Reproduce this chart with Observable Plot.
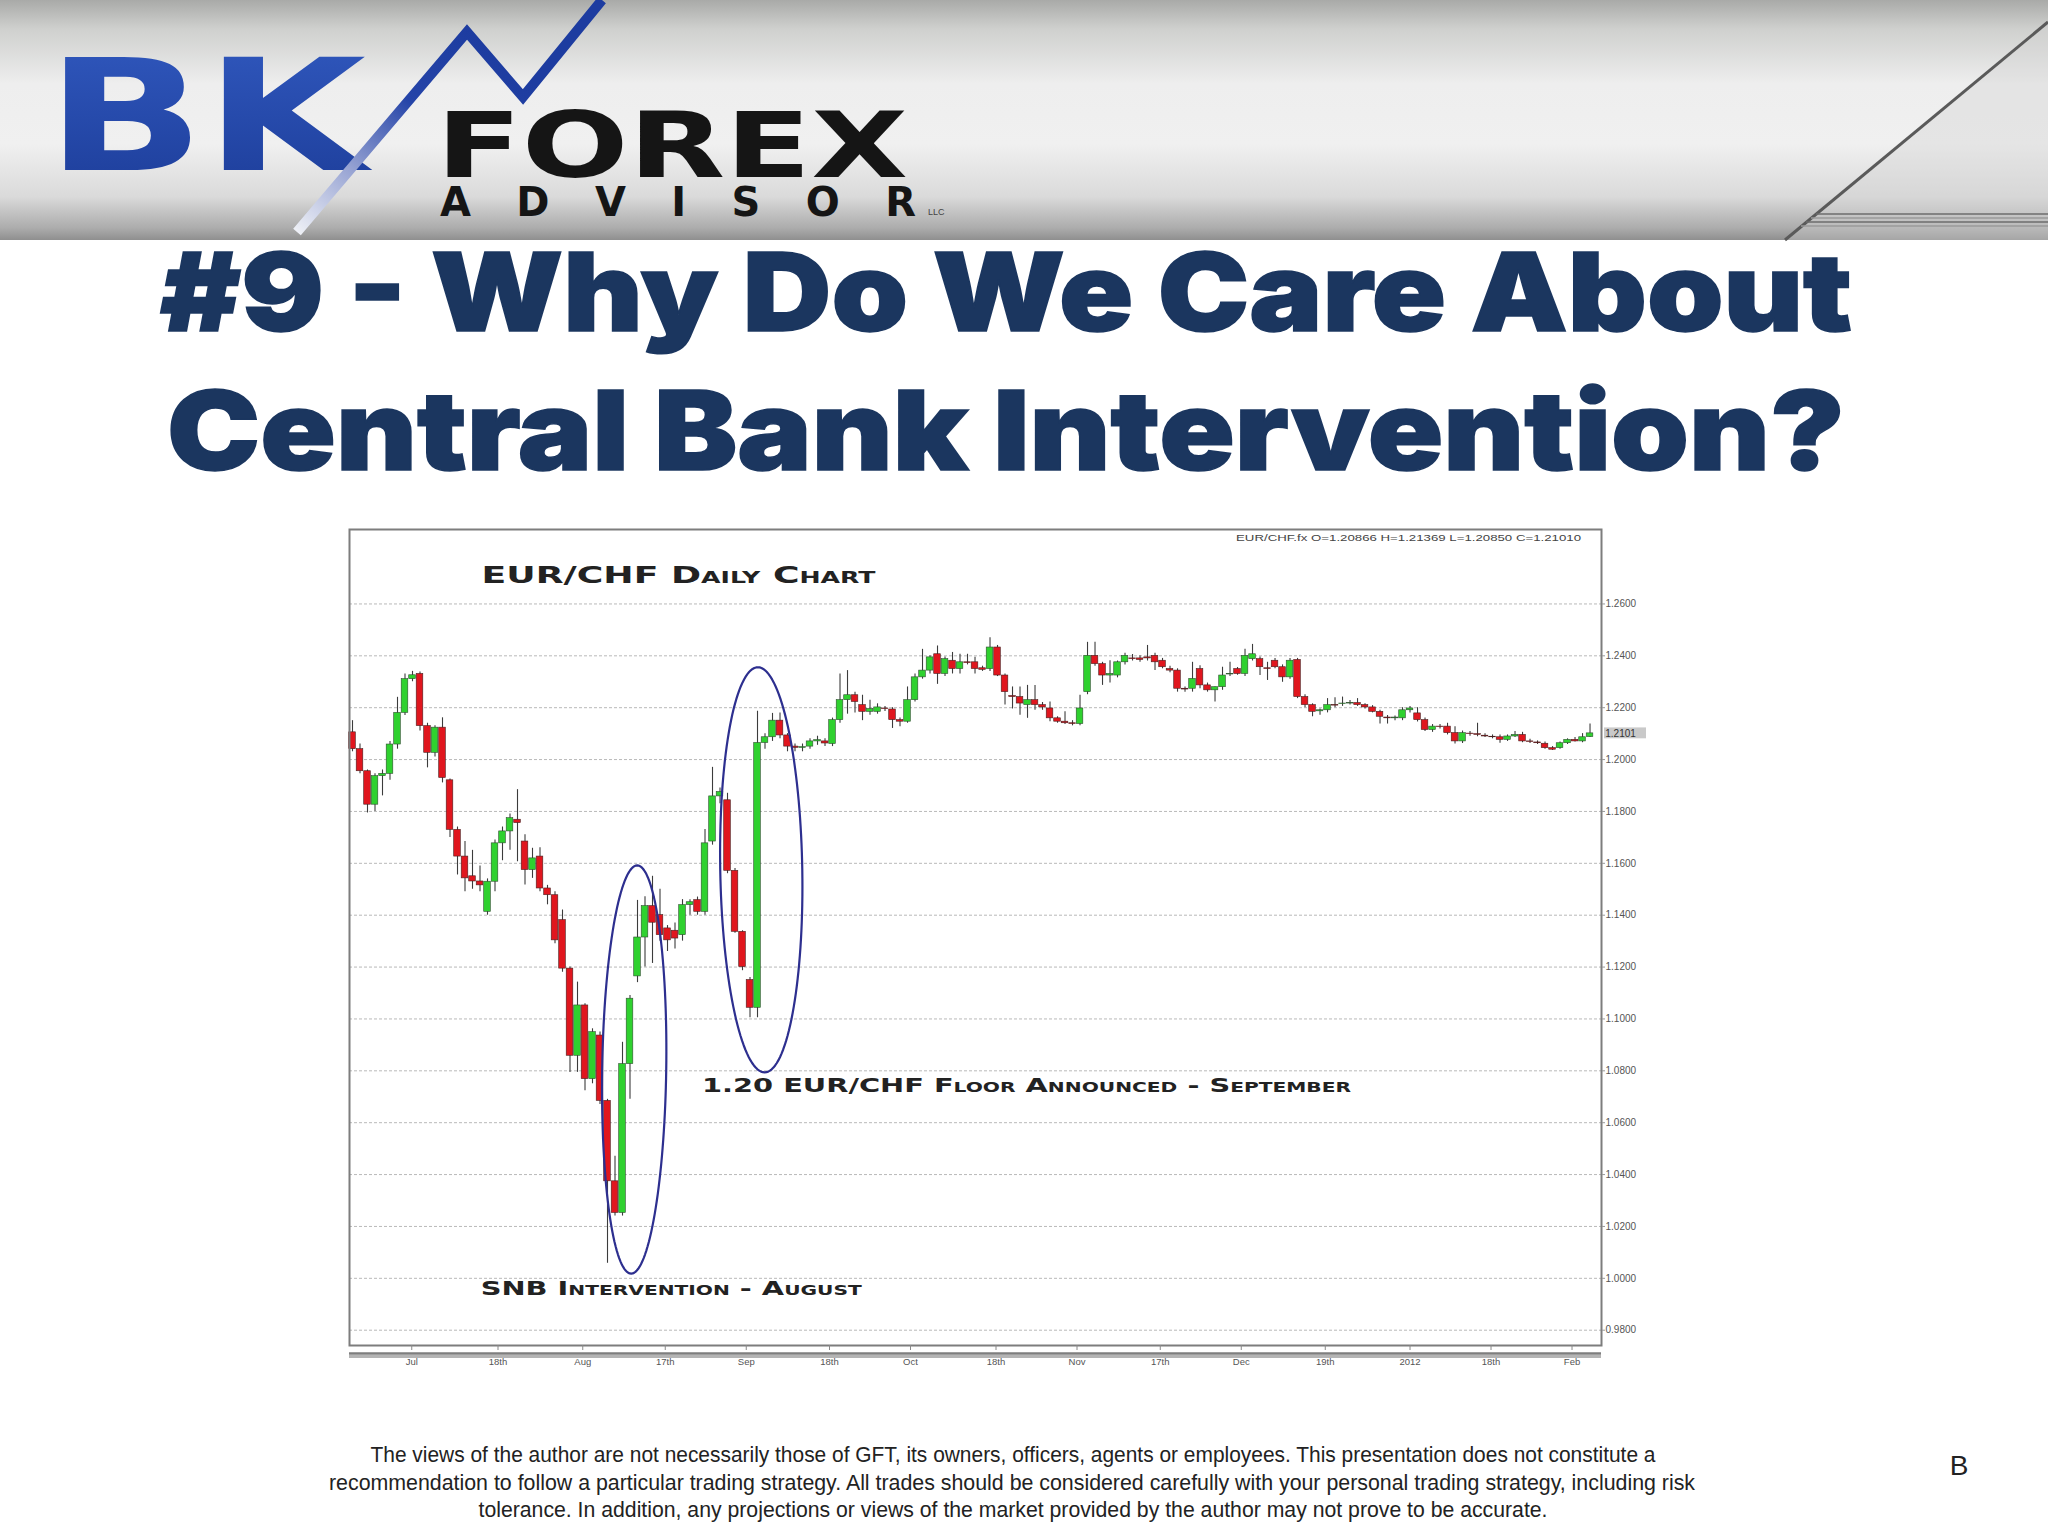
<!DOCTYPE html>
<html>
<head>
<meta charset="utf-8">
<title>#9 - Why Do We Care About Central Bank Intervention?</title>
<script src="https://cdn.jsdelivr.net/npm/d3@7"></script>
<script src="https://cdn.jsdelivr.net/npm/@observablehq/plot@0.6"></script>
<style>
  html, body { margin: 0; padding: 0; background: #ffffff; }
  #slide { position: relative; width: 2048px; height: 1536px; overflow: hidden; background: #ffffff; }
  #deco { position: absolute; left: 0; top: 0; }
  #chart { position: absolute; left: 349px; top: 529px; }
  #chart svg { overflow: visible; }
</style>
</head>
<body>
<div id="slide">
<svg id="deco" width="2048" height="1536" xmlns="http://www.w3.org/2000/svg">
  <defs>
    <linearGradient id="band" x1="0" y1="0" x2="0" y2="1">
      <stop offset="0" stop-color="#a9aaa8"/>
      <stop offset="0.12" stop-color="#cfd0ce"/>
      <stop offset="0.35" stop-color="#eeeeee"/>
      <stop offset="0.6" stop-color="#f0f0f0"/>
      <stop offset="0.82" stop-color="#dadada"/>
      <stop offset="0.95" stop-color="#acacac"/>
      <stop offset="1" stop-color="#8f8f8f"/>
    </linearGradient>
    <linearGradient id="bk" x1="0" y1="0" x2="0" y2="1">
      <stop offset="0" stop-color="#3159bf"/>
      <stop offset="1" stop-color="#1c3c98"/>
    </linearGradient>
    <linearGradient id="zig" gradientUnits="userSpaceOnUse" x1="297" y1="232" x2="470" y2="30">
      <stop offset="0" stop-color="#eef0f6"/>
      <stop offset="0.3" stop-color="#9aa6d4"/>
      <stop offset="0.65" stop-color="#2544a8"/>
      <stop offset="1" stop-color="#1d3ca0"/>
    </linearGradient>
  </defs>
  <rect x="0" y="0" width="2048" height="240" fill="url(#band)"/>
  <polygon points="2048,22 1785,240 2048,240" fill="#d0d0d0" opacity="0.35"/>
  <line x1="2048" y1="22" x2="1785" y2="240" stroke="#5a5a5a" stroke-width="3"/>
  <line x1="1816" y1="214" x2="2048" y2="214" stroke="#6d6d6d" stroke-width="1.5"/>
  <line x1="1811" y1="218" x2="2048" y2="218" stroke="#9a9a9a" stroke-width="1.5"/>
  <line x1="1806" y1="222" x2="2048" y2="222" stroke="#6d6d6d" stroke-width="1.5"/>
  <line x1="1801" y1="226" x2="2048" y2="226" stroke="#9a9a9a" stroke-width="1.5"/>
  <text x="46" y="170" font-family="'DejaVu Sans', sans-serif" font-weight="bold" font-size="155" fill="url(#bk)" textLength="320" lengthAdjust="spacingAndGlyphs">BK</text>
  <polyline points="297,232 467,32 523,97 602,0" fill="none" stroke="url(#zig)" stroke-width="10" stroke-linejoin="miter"/>
  <text font-family="'DejaVu Sans', sans-serif" font-weight="bold" fill="#151515"><tspan x="436" y="177" font-size="90" textLength="472" lengthAdjust="spacingAndGlyphs">FOREX</tspan><tspan x="440" y="216" font-size="40" textLength="476" lengthAdjust="spacing">ADVISOR</tspan></text>
  <text x="928" y="215" font-family="'Liberation Sans', sans-serif" font-size="9" fill="#444">LLC</text>

  <text x="160" y="331" font-family="Inter, 'DejaVu Sans', sans-serif" font-weight="900" font-size="108" fill="#1b365f" stroke="#1b365f" stroke-width="1.5" textLength="1692" lengthAdjust="spacingAndGlyphs">#9 - Why Do We Care About</text>
  <text x="167" y="470" font-family="Inter, 'DejaVu Sans', sans-serif" font-weight="900" font-size="110" fill="#1b365f" stroke="#1b365f" stroke-width="1.5" textLength="1678" lengthAdjust="spacingAndGlyphs">Central Bank Intervention?</text>

  <g font-family="'Liberation Sans Narrow', 'Liberation Sans', sans-serif" font-size="22" fill="#222" text-anchor="middle">
    <text x="1013" y="1462" textLength="1285" lengthAdjust="spacingAndGlyphs">The views of the author are not necessarily those of GFT, its owners, officers, agents or employees. This presentation does not constitute a</text>
    <text x="1012" y="1490" textLength="1366" lengthAdjust="spacingAndGlyphs">recommendation to follow a particular trading strategy. All trades should be considered carefully with your personal trading strategy, including risk</text>
    <text x="1013" y="1517" textLength="1069" lengthAdjust="spacingAndGlyphs">tolerance. In addition, any projections or views of the market provided by the author may not prove to be accurate.</text>
  </g>
  <text x="1959" y="1475" font-family="'Liberation Sans', Arial, sans-serif" font-size="28" fill="#222" text-anchor="middle">B</text>
</svg>
<div id="chart"></div>
</div>
<script>
// ---- EUR/CHF daily candles ----
const opens = [1.2105,1.2040,1.1955,1.1826,1.1936,1.1945,1.2058,1.2180,1.2310,1.2330,
 1.2129,1.2026,1.2123,1.1920,1.1729,1.1626,1.1550,1.1530,1.1413,1.1529,
 1.1677,1.1723,1.1768,1.1684,1.1574,1.1626,1.1503,1.1477,1.1381,1.1194,
 1.0858,1.1052,1.0768,1.0936,1.0684,1.0374,1.0252,1.0826,1.1164,1.1314,
 1.1435,1.1400,1.1349,1.1340,1.1323,1.1439,1.1458,1.1413,1.1684,1.1858,
 1.1843,1.1571,1.1336,1.1150,1.1043,1.2064,1.2086,1.2150,1.2093,1.2050,
 1.2045,1.2050,1.2070,1.2070,1.2060,1.2152,1.2229,1.2248,1.2210,1.2184,
 1.2184,1.2197,1.2193,1.2152,1.2146,1.2229,1.2317,1.2343,1.2406,1.2330,
 1.2381,1.2349,1.2375,1.2375,1.2352,1.2349,1.2432,1.2324,1.2245,1.2241,
 1.2210,1.2229,1.2210,1.2197,1.2159,1.2146,1.2140,1.2137,1.2260,1.2400,
 1.2368,1.2324,1.2324,1.2375,1.2390,1.2390,1.2394,1.2400,1.2381,1.2349,
 1.2343,1.2273,1.2273,1.2349,1.2286,1.2267,1.2279,1.2328,1.2349,1.2330,
 1.2387,1.2387,1.2352,1.2381,1.2356,1.2317,1.2384,1.2241,1.2210,1.2186,
 1.2190,1.2210,1.2214,1.2216,1.2218,1.2210,1.2201,1.2184,1.2162,1.2159,
 1.2159,1.2190,1.2178,1.2152,1.2114,1.2127,1.2127,1.2102,1.2070,1.2100,
 1.2098,1.2092,1.2088,1.2086,1.2076,1.2089,1.2095,1.2070,1.2066,1.2061,
 1.2044,1.2044,1.2063,1.2076,1.2070,1.20866];
const highs = [1.2150,1.2060,1.1960,1.1945,1.1960,1.2070,1.2240,1.2330,1.2340,1.2338,
 1.2140,1.2130,1.2161,1.1925,1.1740,1.1684,1.1650,1.1590,1.1540,1.1690,
 1.1740,1.1790,1.1884,1.1710,1.1658,1.1660,1.1515,1.1490,1.1420,1.1200,
 1.1142,1.1059,1.0962,1.0950,1.0690,1.0471,1.0910,1.1090,1.1457,1.1471,
 1.1550,1.1500,1.1360,1.1370,1.1460,1.1460,1.1470,1.1730,1.1970,1.1890,
 1.1870,1.1580,1.1340,1.1160,1.2186,1.2100,1.2178,1.2180,1.2100,1.2060,
 1.2060,1.2080,1.2090,1.2080,1.2160,1.2330,1.2343,1.2260,1.2248,1.2229,
 1.2215,1.2205,1.2200,1.2160,1.2280,1.2330,1.2425,1.2400,1.2438,1.2395,
 1.2413,1.2406,1.2406,1.2394,1.2360,1.2470,1.2440,1.2330,1.2280,1.2280,
 1.2286,1.2286,1.2220,1.2222,1.2165,1.2184,1.2150,1.2248,1.2452,1.2452,
 1.2375,1.2381,1.2380,1.2410,1.2405,1.2400,1.2440,1.2410,1.2390,1.2360,
 1.2350,1.2280,1.2375,1.2362,1.2295,1.2280,1.2356,1.2375,1.2355,1.2425,
 1.2444,1.2395,1.2375,1.2390,1.2365,1.2390,1.2390,1.2250,1.2215,1.2195,
 1.2235,1.2238,1.2241,1.2228,1.2235,1.2215,1.2208,1.2190,1.2170,1.2168,
 1.2200,1.2205,1.2200,1.2160,1.2135,1.2135,1.2140,1.2127,1.2110,1.2108,
 1.2140,1.2100,1.2095,1.2095,1.2095,1.2108,1.2105,1.2078,1.2072,1.2068,
 1.2050,1.2068,1.2080,1.2085,1.2100,1.21369];
const lows = [1.2030,1.1945,1.1794,1.1800,1.1860,1.1920,1.2040,1.2170,1.2300,1.2110,
 1.1968,1.2010,1.1910,1.1700,1.1555,1.1490,1.1500,1.1490,1.1400,1.1490,
 1.1610,1.1650,1.1606,1.1516,1.1542,1.1490,1.1440,1.1290,1.1180,1.0794,
 1.0794,1.0723,1.0750,1.0670,1.0058,1.0240,1.0240,1.0690,1.1140,1.1200,
 1.1214,1.1300,1.1260,1.1270,1.1300,1.1400,1.1400,1.1400,1.1670,1.1830,
 1.1560,1.1330,1.1186,1.1005,1.1005,1.2040,1.2070,1.2080,1.2030,1.2030,
 1.2030,1.2040,1.2055,1.2050,1.2050,1.2140,1.2175,1.2180,1.2150,1.2171,
 1.2175,1.2185,1.2120,1.2127,1.2140,1.2222,1.2310,1.2330,1.2290,1.2320,
 1.2330,1.2330,1.2365,1.2330,1.2340,1.2340,1.2320,1.2210,1.2195,1.2171,
 1.2159,1.2190,1.2190,1.2146,1.2140,1.2135,1.2130,1.2130,1.2250,1.2360,
 1.2286,1.2295,1.2315,1.2365,1.2380,1.2375,1.2380,1.2343,1.2350,1.2335,
 1.2260,1.2260,1.2260,1.2273,1.2260,1.2222,1.2267,1.2320,1.2325,1.2320,
 1.2380,1.2324,1.2305,1.2350,1.2298,1.2310,1.2235,1.2200,1.2165,1.2171,
 1.2180,1.2200,1.2205,1.2210,1.2205,1.2195,1.2180,1.2137,1.2137,1.2150,
 1.2150,1.2180,1.2145,1.2108,1.2105,1.2118,1.2095,1.2060,1.2062,1.2090,
 1.2088,1.2085,1.2080,1.2063,1.2070,1.2085,1.2065,1.2062,1.2058,1.2040,
 1.2035,1.2040,1.2058,1.2068,1.2065,1.20850];
const closes = [1.2040,1.1955,1.1826,1.1936,1.1945,1.2058,1.2180,1.2310,1.2325,1.2129,
 1.2026,1.2123,1.1929,1.1729,1.1626,1.1542,1.1530,1.1515,1.1529,1.1677,
 1.1723,1.1774,1.1755,1.1574,1.1619,1.1503,1.1477,1.1303,1.1194,1.0858,
 1.1052,1.0768,1.0949,1.0684,1.0374,1.0252,1.0826,1.1078,1.1314,1.1435,
 1.1371,1.1323,1.1303,1.1310,1.1439,1.1450,1.1413,1.1677,1.1858,1.1875,
 1.1571,1.1336,1.1200,1.1043,1.2064,1.2086,1.2150,1.2093,1.2050,1.2045,
 1.2048,1.2070,1.2075,1.2062,1.2152,1.2229,1.2248,1.2222,1.2184,1.2195,
 1.2201,1.2195,1.2152,1.2146,1.2229,1.2317,1.2343,1.2394,1.2330,1.2387,
 1.2349,1.2375,1.2372,1.2349,1.2346,1.2432,1.2324,1.2260,1.2241,1.2216,
 1.2229,1.2210,1.2201,1.2159,1.2146,1.2140,1.2137,1.2197,1.2400,1.2368,
 1.2324,1.2330,1.2375,1.2400,1.2387,1.2384,1.2390,1.2375,1.2356,1.2343,
 1.2273,1.2270,1.2311,1.2286,1.2267,1.2279,1.2324,1.2330,1.2330,1.2400,
 1.2406,1.2356,1.2349,1.2356,1.2317,1.2381,1.2241,1.2210,1.2184,1.2190,
 1.2210,1.2208,1.2216,1.2218,1.2210,1.2201,1.2184,1.2165,1.2159,1.2162,
 1.2190,1.2197,1.2152,1.2114,1.2127,1.2125,1.2102,1.2070,1.2102,1.2098,
 1.2095,1.2089,1.2086,1.2076,1.2089,1.2095,1.2070,1.2068,1.2063,1.2044,
 1.2038,1.2063,1.2076,1.2070,1.2086,1.21010];

// ---- axes ----
const yTicks = [0.98,1.00,1.02,1.04,1.06,1.08,1.10,1.12,1.14,1.16,1.18,1.20,1.22,1.24,1.26];
const xTickIdx = [7.9,19.4,30.7,41.7,52.5,63.6,74.4,85.8,96.6,107.7,118.5,129.7,141.0,151.8,162.6];
const xTickLabels = ["Jul","18th","Aug","17th","Sep","18th","Oct","18th","Nov","17th","Dec","19th","2012","18th","Feb"];
const xDomain = [-0.4, 166.53];
const yDomain = [0.9741, 1.2887];

// ---- annotations (candle index / price units) ----
const annoText = ["EUR/CHF Daily Chart", "1.20 EUR/CHF Floor Announced - September", "SNB Intervention - August"];
const annoX = [17.2, 46.6, 17.1];
const annoY = [1.2710, 1.0743, 0.9961];
const ellipseCx = [37.56, 54.5];
const ellipseCy = [1.0805, 1.1575];
const ellipseRx = [4.27, 5.47];
const ellipseRy = [0.0787, 0.0781];
const ellipseShear = [0.4, -0.45];

const RED = "#e0161e", GREEN = "#2fd12f";
const n = opens.length;
const candles = opens.map((o, i) => ({i, o, h: Math.max(highs[i], o, closes[i]), l: Math.min(lows[i], o, closes[i]), c: closes[i]}));
const lastClose = closes[n - 1];
const infoText = `EUR/CHF.fx O=${opens[n-1].toFixed(5)} H=${highs[n-1].toFixed(5)} L=${lows[n-1].toFixed(5)} C=${closes[n-1].toFixed(5)}`;

const ellipsePts = ellipseCx.flatMap((cx, k) => d3.range(0, 145).map(j => {
  const t = j / 144 * 2 * Math.PI;
  return {k, x: cx + ellipseRx[k] * Math.cos(t) + ellipseShear[k] * Math.sin(t), y: ellipseCy[k] + ellipseRy[k] * Math.sin(t)};
}));

const annoFont = "'DejaVu Sans', 'Liberation Sans', sans-serif";

const chart = Plot.plot({
  width: 1310,
  height: 860,
  marginLeft: 0,
  marginRight: 58,
  marginTop: 0,
  marginBottom: 44,
  x: {domain: xDomain, axis: null},
  y: {domain: yDomain, axis: null},
  style: {background: "transparent", fontFamily: "'Liberation Sans', Arial, sans-serif", overflow: "visible"},
  marks: [
    Plot.ruleY(yTicks, {stroke: "#b9b9b9", strokeDasharray: "3,2", strokeWidth: 1}),
    Plot.ruleX(candles, {x: "i", y1: "l", y2: "h", stroke: "#3c3c3c", strokeWidth: 1.1}),
    Plot.rect(candles, {filter: d => d.c >= d.o, x1: d => d.i - 0.44, x2: d => d.i + 0.44, y1: "o", y2: "c", fill: GREEN, stroke: "#2f4f2f", strokeWidth: 0.6}),
    Plot.rect(candles, {filter: d => d.c < d.o, x1: d => d.i - 0.44, x2: d => d.i + 0.44, y1: "c", y2: "o", fill: RED, stroke: "#4a2020", strokeWidth: 0.6}),
    Plot.line(ellipsePts, {x: "x", y: "y", z: "k", stroke: "#2d2f8f", strokeWidth: 2.2, curve: "linear"}),
    Plot.text([annoText[0]], {x: annoX[0], y: annoY[0], text: d => d, textAnchor: "start", fontSize: 23, fontWeight: "bold", fontVariant: "small-caps", fontFamily: annoFont, fill: "#222"}),
    Plot.text([annoText[1]], {x: annoX[1], y: annoY[1], text: d => d, textAnchor: "start", fontSize: 20, fontWeight: "bold", fontVariant: "small-caps", fontFamily: annoFont, fill: "#222"}),
    Plot.text([annoText[2]], {x: annoX[2], y: annoY[2], text: d => d, textAnchor: "start", fontSize: 20, fontWeight: "bold", fontVariant: "small-caps", fontFamily: annoFont, fill: "#222"}),
    Plot.text([infoText], {x: n - 1 - 1.2, y: yDomain[1] - 0.0033, text: d => d, textAnchor: "end", fontSize: 9, fill: "#444"}),
    Plot.frame({stroke: "#7d7d7d", strokeWidth: 2}),
    Plot.axisY({anchor: "right", ticks: yTicks, tickFormat: d => d.toFixed(4), tickSize: 3, tickPadding: 1, fontSize: 10, fill: "#555", stroke: "#9a9a9a", label: null}),
    Plot.rect([lastClose], {x1: xDomain[1] + 0.4, x2: xDomain[1] + 6.0, y1: d => d - 0.0021, y2: d => d + 0.0021, fill: "#c9c9c9"}),
    Plot.text([lastClose], {x: xDomain[1] + 0.5, y: d => d, text: d => d.toFixed(4), textAnchor: "start", fontSize: 10, fill: "#333"}),
    Plot.ruleY([yDomain[0]], {dy: 8, stroke: "#7e7e7e", strokeWidth: 2.5}),
    Plot.ruleY([yDomain[0]], {dy: 11, stroke: "#b4b4b4", strokeWidth: 3}),
    Plot.axisX({ticks: xTickIdx, tickFormat: d => xTickLabels[xTickIdx.indexOf(d)], tickSize: 5, tickPadding: 8, fontSize: 9.5, fill: "#555", stroke: "#8a8a8a", label: null})
  ]
});

document.getElementById("chart").appendChild(chart);

// stretch the copperplate-style annotations to the widths seen in the picture
const lengths = new Map([[annoText[0], 394], [annoText[1], 649], [annoText[2], 381], [infoText, 345]]);
d3.select(chart).selectAll("text").each(function () {
  const L = lengths.get(this.textContent);
  if (L) { this.setAttribute("textLength", L); this.setAttribute("lengthAdjust", "spacingAndGlyphs"); }
});
</script>
</body>
</html>
